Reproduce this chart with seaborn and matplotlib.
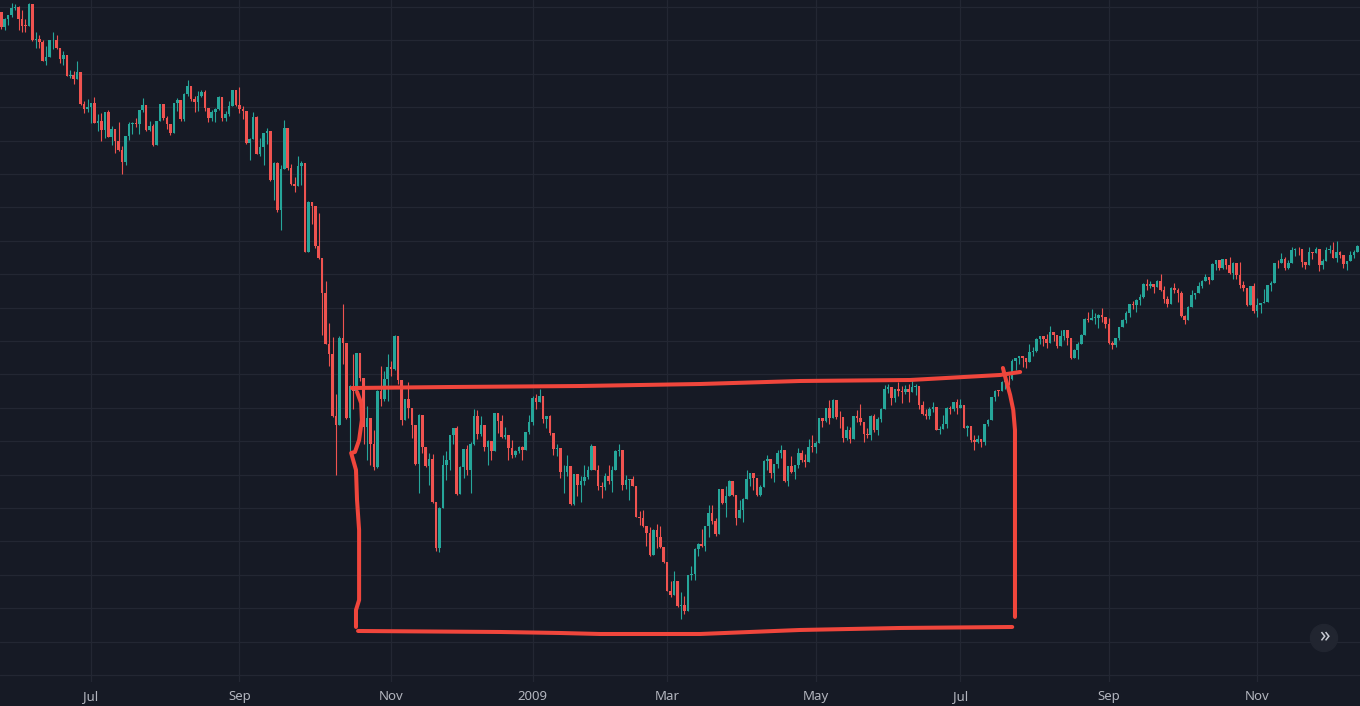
import numpy as np
import pandas as pd
import seaborn as sns
import matplotlib.pyplot as plt
from matplotlib.patches import Ellipse

# S&P 500 daily candles, 22 May 2008 - 14 Dec 2009
first_open = 1390.7

close = [
    1394.4, 1375.9, 1385.4, 1390.7, 1398.3, 1400.4,  # May 08
    1385.7, 1377.7, 1377.2, 1404.1, 1360.7, 1361.8, 1358.4, 1335.5, 1339.9, 1360.0, 1360.1,
    1350.9, 1337.8, 1342.8, 1317.9, 1318.0, 1314.3, 1321.9, 1283.6, 1278.4, 1280.0,  # Jun
    1284.9, 1261.5, 1262.9, 1252.3, 1273.7, 1244.7, 1253.4, 1239.5, 1228.3, 1214.9, 1245.4,
    1260.3, 1260.7, 1260.0, 1277.0, 1282.2, 1252.5, 1257.8, 1234.4, 1263.2, 1284.3, 1267.4,  # Jul
    1260.3, 1249.0, 1284.9, 1289.2, 1266.1, 1296.3, 1305.3, 1289.6, 1285.8, 1292.9, 1298.2,
    1278.6, 1266.7, 1274.5, 1277.7, 1292.2, 1266.8, 1271.5, 1281.7, 1300.7, 1282.8,  # Aug
    1277.6, 1275.0, 1236.8, 1242.3, 1267.8, 1224.5, 1232.0, 1249.1, 1251.7, 1192.7, 1213.6,
    1156.4, 1206.5, 1255.1, 1207.1, 1188.2, 1185.9, 1209.2, 1213.3, 1106.4, 1166.4,  # Sep
    1161.1, 1114.3, 1099.2, 1056.9, 996.2, 984.9, 909.9, 899.2, 1003.4, 998.0, 907.8, 946.4,
    940.6, 985.4, 955.1, 896.8, 908.1, 876.8, 848.9, 940.5, 930.1, 954.1, 968.8,  # Oct
    966.3, 1005.8, 952.8, 904.9, 931.0, 919.2, 899.0, 852.3, 911.3, 873.3, 850.8, 859.1,
    806.6, 752.4, 800.0, 851.8, 857.4, 887.7, 896.2,  # Nov
    816.2, 848.8, 870.7, 845.2, 876.1, 909.7, 888.7, 899.2, 873.6, 879.7, 868.6, 913.2,
    904.4, 885.3, 887.9, 871.6, 863.2, 868.2, 872.8, 869.4, 890.6, 903.3,  # Dec
    931.8, 927.5, 934.7, 906.7, 909.7, 890.4, 870.3, 871.8, 842.6, 843.7, 850.1, 805.2,
    840.2, 827.5, 832.0, 836.6, 845.7, 874.1, 845.1, 825.9,  # Jan 09
    825.4, 838.5, 832.2, 845.9, 868.6, 869.9, 827.2, 833.7, 835.2, 826.8, 789.2, 788.4,
    778.9, 770.1, 743.3, 773.1, 764.9, 752.8, 735.1,  # Feb
    700.8, 696.3, 712.9, 682.6, 683.4, 676.5, 719.6, 721.4, 750.7, 756.6, 753.9, 778.1,
    794.4, 784.0, 768.5, 822.9, 806.1, 813.9, 832.9, 815.9, 787.5, 797.9,  # Mar
    811.1, 834.4, 842.5, 835.5, 815.6, 825.2, 856.6, 858.7, 841.5, 852.1, 865.3, 869.6,
    832.4, 850.1, 843.6, 851.9, 866.2, 857.5, 855.2, 873.6, 872.8,  # Apr
    877.5, 907.2, 903.8, 919.5, 907.4, 929.2, 909.2, 908.4, 883.9, 893.1, 882.9, 909.7,
    908.1, 903.5, 888.3, 887.0, 910.3, 893.1, 906.8, 919.1,  # May
    942.9, 944.7, 931.8, 942.5, 940.1, 939.1, 942.4, 939.2, 944.9, 946.2, 923.7, 912.0,
    910.7, 918.4, 921.2, 893.0, 895.1, 900.9, 920.3, 918.9, 927.2, 919.3,  # Jun
    923.3, 896.4, 898.7, 881.0, 879.6, 882.7, 879.1, 901.1, 905.8, 932.7, 940.7, 940.4,
    951.1, 954.6, 954.1, 976.3, 979.3, 982.2, 979.6, 975.2, 986.8, 987.5,  # Jul
    1002.6, 1005.7, 1002.7, 997.1, 1010.5, 1007.1, 994.4, 1005.8, 1012.7, 1004.1, 979.7,
    989.7, 996.5, 1007.4, 1026.1, 1025.6, 1028.0, 1028.1, 1031.0, 1028.9, 1020.6,  # Aug
    998.0, 994.8, 1003.2, 1016.4, 1025.4, 1033.4, 1044.1, 1042.7, 1049.3, 1052.6, 1068.8,
    1065.5, 1068.3, 1064.7, 1071.7, 1060.9, 1050.8, 1044.4, 1063.0, 1060.6, 1057.1,  # Sep
    1029.9, 1025.2, 1040.5, 1054.7, 1057.6, 1065.5, 1071.5, 1076.2, 1073.2, 1092.0, 1096.6,
    1087.7, 1097.9, 1091.1, 1081.4, 1092.9, 1079.6, 1067.0, 1063.4, 1042.6, 1066.1, 1036.2,  # Oct
    1042.9, 1045.4, 1046.5, 1066.6, 1069.3, 1093.1, 1093.0, 1098.5, 1087.2, 1093.5, 1109.3,
    1110.3, 1109.8, 1094.9, 1091.4, 1106.2, 1105.7, 1110.6, 1091.5, 1095.6,  # Nov
    1108.9, 1109.2, 1099.9, 1106.0, 1103.3, 1091.9, 1096.0, 1102.4, 1106.4, 1114.1,  # Dec
]

high = [
    1406, 1394, 1387, 1391, 1405, 1404,
    1401, 1396, 1386, 1405, 1404, 1370, 1366, 1360, 1353, 1360, 1370,
    1366, 1350, 1347, 1342, 1324, 1323, 1335, 1322, 1288, 1290,
    1285, 1292, 1272, 1273, 1274, 1277, 1257, 1254, 1262, 1234, 1246,
    1262, 1262, 1267, 1277, 1291, 1283, 1264, 1260, 1263, 1284, 1284,
    1270, 1260, 1285, 1291, 1289, 1297, 1313, 1305, 1294, 1300, 1301,
    1301, 1279, 1277, 1279, 1294, 1292, 1275, 1288, 1301, 1300,
    1304, 1281, 1275, 1243, 1274, 1269, 1243, 1249, 1255, 1250, 1214,
    1214, 1211, 1265, 1255, 1212, 1197, 1221, 1215, 1210, 1168,
    1167, 1161, 1153, 1099, 1072, 1021, 1005, 936, 1006, 1044, 995, 947,
    985, 985, 985, 955, 922, 896, 893, 941, 970, 964, 984,
    976, 1007, 1005, 952, 931, 951, 918, 898, 913, 911, 873, 866,
    865, 806, 801, 863, 868, 888, 896,
    898, 850, 871, 875, 879, 918, 917, 910, 898, 882, 880, 914,
    909, 911, 897, 887, 881, 870, 874, 874, 891, 911,
    934, 936, 943, 927, 910, 911, 890, 877, 871, 852, 864, 850,
    841, 840, 838, 852, 850, 877, 874, 851,
    831, 842, 851, 850, 870, 877, 869, 839, 835, 838, 818, 796,
    797, 778, 777, 775, 781, 779, 752,
    735, 712, 725, 708, 699, 695, 720, 731, 752, 758, 775, 778,
    804, 803, 788, 823, 823, 826, 833, 828, 809, 810,
    812, 845, 842, 839, 835, 828, 857, 864, 857, 853, 870, 876,
    869, 850, 862, 852, 872, 869, 865, 883, 888,
    880, 907, 907, 920, 929, 930, 929, 916, 908, 898, 897, 910,
    917, 924, 903, 896, 911, 913, 909, 920,
    947, 949, 942, 943, 951, 946, 947, 949, 956, 948, 943, 928,
    919, 921, 927, 921, 898, 911, 921, 922, 927, 931,
    931, 921, 899, 898, 887, 887, 883, 901, 907, 933, 941, 941,
    952, 956, 959, 979, 979, 982, 982, 977, 996, 993,
    1003, 1006, 1006, 1008, 1018, 1010, 1006, 1013, 1013, 1012, 998,
    991, 999, 1008, 1027, 1035, 1038, 1033, 1032, 1039, 1025,
    1028, 1000, 1004, 1017, 1026, 1036, 1044, 1048, 1050, 1056, 1069,
    1074, 1072, 1067, 1073, 1080, 1066, 1054, 1065, 1069, 1063,
    1060, 1031, 1042, 1061, 1058, 1071, 1073, 1080, 1076, 1093, 1097,
    1096, 1098, 1098, 1101, 1095, 1094, 1095, 1072, 1063, 1066, 1070,
    1052, 1046, 1062, 1067, 1072, 1093, 1097, 1105, 1101, 1097, 1113,
    1111, 1112, 1106, 1094, 1112, 1107, 1112, 1107, 1098,
    1112, 1115, 1118, 1120, 1108, 1103, 1096, 1108, 1109, 1115,
]

low = [
    1388, 1374, 1373, 1378, 1388, 1396,
    1373, 1370, 1370, 1378, 1359, 1351, 1351, 1335, 1331, 1341, 1350,
    1350, 1333, 1330, 1317, 1315, 1308, 1314, 1283, 1273, 1274,
    1261, 1261, 1252, 1240, 1243, 1244, 1235, 1225, 1228, 1200, 1211,
    1241, 1248, 1256, 1248, 1274, 1252, 1251, 1234, 1235, 1264, 1265,
    1254, 1247, 1249, 1276, 1264, 1263, 1293, 1287, 1274, 1276, 1292,
    1276, 1262, 1263, 1262, 1277, 1264, 1263, 1270, 1282, 1281,
    1273, 1266, 1236, 1217, 1247, 1224, 1221, 1211, 1236, 1192, 1169,
    1155, 1133, 1207, 1205, 1187, 1179, 1187, 1187, 1106, 1106,
    1140, 1111, 1098, 1007, 996, 970, 909, 840, 899, 972, 907, 866,
    918, 937, 952, 877, 858, 852, 846, 848, 922, 928, 928,
    958, 965, 949, 899, 906, 908, 884, 852, 818, 866, 849, 827,
    806, 748, 747, 801, 834, 845, 877,
    815, 817, 836, 840, 818, 876, 883, 886, 868, 852, 857, 869,
    890, 884, 883, 858, 860, 861, 866, 858, 870, 889,
    899, 919, 927, 902, 896, 888, 864, 862, 836, 818, 838, 804,
    804, 814, 807, 827, 835, 845, 845, 821,
    812, 821, 829, 819, 845, 862, 822, 823, 809, 826, 789, 780,
    777, 754, 743, 744, 752, 752, 734,
    700, 693, 697, 681, 667, 673, 679, 714, 714, 742, 753, 749,
    765, 781, 766, 772, 805, 789, 814, 814, 780, 790,
    783, 812, 826, 822, 814, 814, 826, 845, 836, 831, 848, 860,
    831, 826, 842, 835, 848, 855, 849, 856, 867,
    866, 879, 897, 903, 901, 909, 907, 896, 879, 882, 878, 886,
    903, 899, 879, 884, 881, 891, 887, 903,
    919, 938, 923, 927, 934, 926, 936, 927, 939, 935, 919, 911,
    906, 907, 915, 893, 889, 896, 896, 913, 916, 913,
    920, 896, 886, 879, 869, 878, 873, 875, 898, 907, 928, 934,
    940, 942, 947, 953, 965, 972, 969, 968, 976, 982,
    987, 996, 994, 992, 1001, 1000, 992, 994, 1001, 995, 979,
    980, 978, 996, 1009, 1023, 1026, 1020, 1016, 1023, 1015,
    996, 991, 993, 1001, 1018, 1021, 1029, 1038, 1035, 1043, 1052,
    1061, 1064, 1057, 1066, 1060, 1045, 1041, 1045, 1057, 1047,
    1029, 1020, 1025, 1041, 1050, 1058, 1063, 1072, 1068, 1074, 1085,
    1085, 1086, 1086, 1080, 1074, 1074, 1064, 1060, 1042, 1043, 1034,
    1029, 1034, 1045, 1047, 1060, 1070, 1087, 1094, 1085, 1086, 1094,
    1102, 1103, 1089, 1086, 1092, 1098, 1106, 1084, 1086,
    1096, 1105, 1099, 1095, 1099, 1088, 1085, 1097, 1100, 1107,
]

holidays = ['2008-05-26', '2008-07-04', '2008-09-01', '2008-11-27', '2008-12-25',
            '2009-01-01', '2009-01-19', '2009-02-16', '2009-04-10', '2009-05-25',
            '2009-07-03', '2009-09-07', '2009-11-26']

tick_months = ['2008-07', '2008-09', '2008-11', '2009-01', '2009-03',
               '2009-05', '2009-07', '2009-09', '2009-11']
tick_labels = ['Jul', 'Sep', 'Nov', '2009', 'Mar', 'May', 'Jul', 'Sep', 'Nov']

# hand-drawn red box (bar index, price)
box_top_x = [102.6, 131.1, 168.7, 203.5, 232.5, 264.4, 290.5, 296.3]
box_top_y = [943.7, 944.9, 946.1, 948.5, 952.1, 953.3, 959.3, 962.9]
box_left_x = [104.1, 105.3, 105.5, 104.7, 103.5, 102.4, 103.8, 104.1, 104.7, 104.7, 103.8, 103.8]
box_left_y = [939.0, 925.7, 905.4, 881.4, 867.1, 865.9, 845.5, 809.6, 773.7, 689.8, 677.8, 657.5]
box_bottom_x = [104.4, 145.6, 162.9, 174.5, 203.5, 232.5, 261.5, 294.0]
box_bottom_y = [652.7, 651.5, 650.3, 649.1, 649.1, 653.9, 656.3, 657.5]
box_right_x = [291.3, 292.2, 293.4, 294.3, 294.8, 294.8, 294.8]
box_right_y = [967.7, 953.3, 935.3, 917.4, 893.4, 809.6, 669.5]

# ---- build frame
dates = pd.bdate_range('2008-05-22', '2009-12-14')
dates = dates[~dates.isin(pd.to_datetime(holidays))]
assert len(dates) == len(close) == len(high) == len(low), (len(dates), len(close), len(high), len(low))

df = pd.DataFrame({'date': dates, 'close': close, 'high': high, 'low': low})
df['open'] = [first_open] + close[:-1]
df['idx'] = np.arange(len(df))
df['high'] = df[['high', 'open', 'close']].max(axis=1)
df['low'] = df[['low', 'open', 'close']].min(axis=1)
df['up'] = df['close'] >= df['open']

ticks = [df.loc[df['date'].dt.strftime('%Y-%m') == m, 'idx'].iloc[0] for m in tick_months]

bg = '#161a25'
grid = '#232733'
up_col = '#26a69a'
down_col = '#ef5350'

sns.set_theme(style='dark', rc={'axes.facecolor': bg, 'figure.facecolor': bg})
plt.rcParams['font.family'] = ['Noto Sans', 'DejaVu Sans']

fig = plt.figure(figsize=(13.6, 7.06), dpi=100)
ax = fig.add_axes([0, 24 / 706, 1, 682 / 706])
ax.set_facecolor(bg)

cols = np.where(df['up'], up_col, down_col)
ax.vlines(df['idx'], df['low'], df['high'], colors=cols, lw=0.8, zorder=2)
body = (df['close'] - df['open']).abs().clip(lower=0.9)
ax.bar(df['idx'], body, bottom=df[['open', 'close']].min(axis=1),
       width=0.74, color=cols, linewidth=0, zorder=3)

red = '#f0463c'
for xs, ys in [(box_top_x, box_top_y), (box_left_x, box_left_y),
               (box_bottom_x, box_bottom_y), (box_right_x, box_right_y)]:
    ax.plot(xs, ys, color=red, lw=2.9, solid_capstyle='round',
            solid_joinstyle='round', zorder=5)

ax.set_xlim(0.62, 394.8)
ax.set_ylim(591.6, 1408.4)
ax.set_yticks(np.arange(600, 1401, 40))
ax.set_yticklabels([])
ax.set_xticks(ticks)
ax.set_xticklabels(tick_labels)
ax.tick_params(axis='x', length=0, pad=6, labelsize=9.5, labelcolor='#b2b5be')
ax.tick_params(axis='y', length=0)
ax.grid(True, color=grid, lw=0.9)
ax.set_axisbelow(True)
for s in ax.spines.values():
    s.set_visible(False)

# scroll-to-latest button
cx, cy = 1324 / 1360, 1 - 638 / 706
fig.patches.append(Ellipse((cx, cy), 27 / 1360, 27 / 706, transform=fig.transFigure,
                           color='#212530', zorder=10))
fig.text(cx, cy + 1 / 706, '»', color='#c9ccd4', fontsize=15, fontweight='bold',
         ha='center', va='center', zorder=11)

fig.savefig('out.png', dpi=100, facecolor=bg)
